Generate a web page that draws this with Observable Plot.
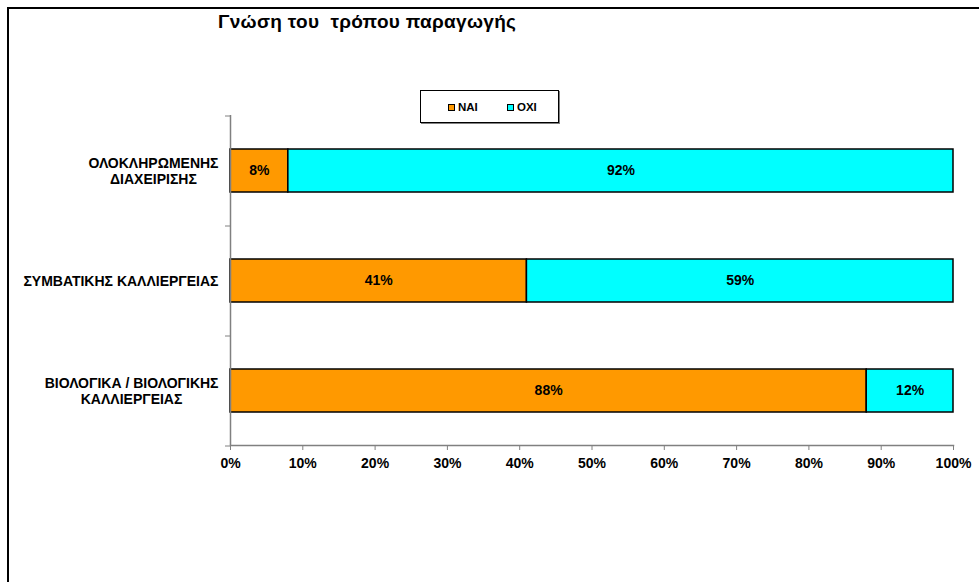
<!DOCTYPE html>
<html>
<head>
<meta charset="utf-8">
<script src="https://cdn.jsdelivr.net/npm/d3@7"></script>
<script src="https://cdn.jsdelivr.net/npm/@observablehq/plot@0.6"></script>
<style>
  html, body { margin: 0; padding: 0; background: #fff; }
  #wrap { position: relative; width: 979px; height: 582px; overflow: hidden; background: #fff;
          font-family: "Liberation Sans", Arial, sans-serif; }
  #frame { position: absolute; left: 7px; top: 7px; width: 1000px; height: 600px;
           border-left: 2px solid #000; border-top: 2px solid #000; box-sizing: border-box; }
  #title { position: absolute; left: 218px; top: 11px; font-size: 19px; letter-spacing: 0.3px; font-weight: bold; white-space: pre; color: #000; }
  #legend { position: absolute; left: 420px; top: 90px; width: 139px; height: 33px; box-sizing: border-box;
            border: 1px solid #000; box-shadow: 1px 1px 0 #808080; background: #fff; font-size: 11.5px; font-weight: bold; }
  .item { position: absolute; top: 10px; display: flex; align-items: center; line-height: 12px; }
  .sw { width: 5px; height: 5px; border: 1px solid #000; margin-right: 3px; }
  #chart { position: absolute; left: 0; top: 0; }
</style>
</head>
<body>
<div id="wrap">
  <div id="frame"></div>
  <div id="chart"></div>
  <div id="title"></div>
  <div id="legend"></div>
</div>
<script>
const title = "Γνώση του  τρόπου παραγωγής";
const categories = ["ΟΛΟΚΛΗΡΩΜΕΝΗΣ\nΔΙΑΧΕΙΡΙΣΗΣ", "ΣΥΜΒΑΤΙΚΗΣ ΚΑΛΛΙΕΡΓΕΙΑΣ", "ΒΙΟΛΟΓΙΚΑ / ΒΙΟΛΟΓΙΚΗΣ\nΚΑΛΛΙΕΡΓΕΙΑΣ"];
const series = ["ΝΑΙ", "ΟΧΙ"];
const colors = ["#FF9900", "#00FFFF"];
const yesValues = [8, 41, 88];
const noValues = [92, 59, 12];
const xTicks = [0, 10, 20, 30, 40, 50, 60, 70, 80, 90, 100];

const data = [];
categories.forEach((c, i) => {
  data.push({cat: c, series: series[0], value: yesValues[i]});
  data.push({cat: c, series: series[1], value: noValues[i]});
});

document.getElementById("title").textContent = title;
const legend = document.getElementById("legend");
const legendX = [27, 86];
series.forEach((s, i) => {
  const it = document.createElement("div");
  it.className = "item";
  it.style.left = legendX[i] + "px";
  it.innerHTML = `<span class="sw" style="background:${colors[i]}"></span><span>${s}</span>`;
  legend.appendChild(it);
});

const W = 979, H = 582, mT = 115, mB = 137, mL = 230, mR = 26;
const step = (H - mT - mB) / categories.length;
const gray = "#808080";

const chart = Plot.plot({
  width: W, height: H,
  marginTop: mT, marginBottom: mB, marginLeft: mL, marginRight: mR,
  style: {fontFamily: "'Liberation Sans', Arial, sans-serif", fontSize: "14px", fontWeight: "bold", color: "#000", background: "transparent"},
  x: {domain: [0, 100], label: null},
  y: {domain: categories, paddingInner: 0.61, paddingOuter: 0.305, label: null},
  color: {domain: series, range: colors},
  marks: [
    Plot.barX(data, Plot.stackX({y: "cat", x: "value", fill: "series", order: series, stroke: "#000", strokeWidth: 1.5})),
    Plot.text(data, Plot.stackX({y: "cat", x: "value", z: "series", order: series, text: d => d.value + "%", fill: "#000", fontSize: 14, fontWeight: "bold"})),
    Plot.ruleX([0], {stroke: gray, strokeWidth: 1.5}),
    Plot.frame({anchor: "bottom", stroke: gray, strokeWidth: 1.5}),
    Plot.axisX({ticks: xTicks, tickFormat: d => d + "%", tickSize: 5, stroke: gray, tickPadding: 8, fill: "#000", fontSize: 14, fontWeight: "bold", label: null}),
    Plot.axisY({tickSize: 5, tickFormat: () => "", stroke: gray, dy: -step / 2, label: null}),
    Plot.axisY({ticks: [categories[categories.length - 1]], tickSize: 5, tickFormat: () => "", stroke: gray, dy: step / 2, label: null}),
    Plot.axisY({tickSize: 0, tickPadding: 12, textAnchor: "middle", fill: "#000", fontSize: 14, fontWeight: "bold", lineHeight: 1.14, label: null})
  ]
});
document.getElementById("chart").appendChild(chart);

// Right-align each multi-line category label block while keeping its lines centred.
chart.querySelectorAll('g[aria-label="y-axis tick label"] text').forEach(t => {
  if (!t.textContent.trim()) return;
  const w = t.getBBox().width;
  const prev = t.getAttribute("transform") || "";
  t.setAttribute("transform", prev + ` translate(${-w / 2},0)`);
});
</script>
</body>
</html>
